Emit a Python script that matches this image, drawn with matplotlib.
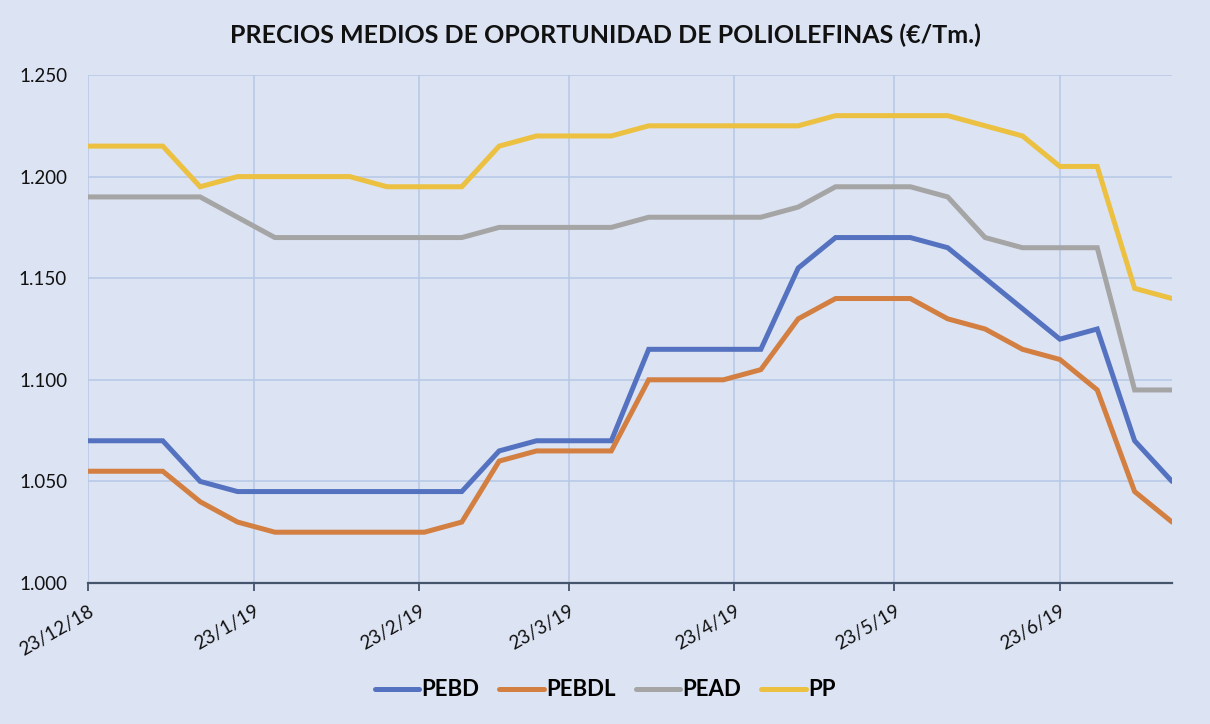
import matplotlib
matplotlib.use("Agg")
import matplotlib.pyplot as plt
import matplotlib.ticker as mticker
import pandas as pd

# ---- data (weekly observations, €/Tm) ----
start_date = "2018-12-23"
n_weeks = 30
pebd = [1070, 1070, 1070, 1050, 1045, 1045, 1045, 1045, 1045, 1045,
        1045, 1065, 1070, 1070, 1070, 1115, 1115, 1115, 1115, 1155,
        1170, 1170, 1170, 1165, 1150, 1135, 1120, 1125, 1070, 1050]
pebdl = [1055, 1055, 1055, 1040, 1030, 1025, 1025, 1025, 1025, 1025,
         1030, 1060, 1065, 1065, 1065, 1100, 1100, 1100, 1105, 1130,
         1140, 1140, 1140, 1130, 1125, 1115, 1110, 1095, 1045, 1030]
pead = [1190, 1190, 1190, 1190, 1180, 1170, 1170, 1170, 1170, 1170,
        1170, 1175, 1175, 1175, 1175, 1180, 1180, 1180, 1180, 1185,
        1195, 1195, 1195, 1190, 1170, 1165, 1165, 1165, 1095, 1095]
pp = [1215, 1215, 1215, 1195, 1200, 1200, 1200, 1200, 1195, 1195,
      1195, 1215, 1220, 1220, 1220, 1225, 1225, 1225, 1225, 1225,
      1230, 1230, 1230, 1230, 1225, 1220, 1205, 1205, 1145, 1140]
series_names = ["PEBD", "PEBDL", "PEAD", "PP"]
series_colors = ["#5472c0", "#d27f41", "#a5a5a5", "#ecc040"]
tick_dates = ["2018-12-23", "2019-01-23", "2019-02-23", "2019-03-23",
              "2019-04-23", "2019-05-23", "2019-06-23"]
title = "PRECIOS MEDIOS DE OPORTUNIDAD DE POLIOLEFINAS (€/Tm.)"

dates = pd.date_range(start_date, periods=n_weeks, freq="7D")

bg = "#dce3f2"
grid_c = "#b7c8e6"
axis_c = "#44546a"
plt.rcParams["font.family"] = ["Lato", "DejaVu Sans"]

fig = plt.figure(figsize=(12.1, 7.24), dpi=100, facecolor=bg)
ax = fig.add_axes([88 / 1210, 1 - 583 / 724, (1172 - 88) / 1210, (583 - 75) / 724])
ax.set_facecolor(bg)

for vals, name, col in zip([pebd, pebdl, pead, pp], series_names, series_colors):
    ax.plot(dates, vals, color=col, lw=3.6, label=name,
            solid_joinstyle="miter", solid_capstyle="round", zorder=3)

ax.set_xlim(dates[0], dates[-1])
ax.set_ylim(1000, 1250)
ax.yaxis.set_major_locator(mticker.MultipleLocator(50))
ax.yaxis.set_major_formatter(
    mticker.FuncFormatter(lambda v, p: f"{int(v) // 1000}.{int(v) % 1000:03d}"))

ticks = [pd.Timestamp(d) for d in tick_dates]
ax.set_xticks(ticks)
ax.set_xticklabels([f"{t.day}/{t.month}/{t.strftime('%y')}" for t in ticks],
                   rotation=30, ha="right", rotation_mode="anchor")

ax.grid(True, color=grid_c, lw=1.1, zorder=0)
for s in ["top", "right", "left"]:
    ax.spines[s].set_visible(False)
ax.spines["bottom"].set_color(axis_c)
ax.spines["bottom"].set_linewidth(1.6)
ax.spines["bottom"].set_zorder(4)
ax.tick_params(axis="y", length=0, pad=15, labelsize=13.5, labelcolor="#111111")
ax.tick_params(axis="x", length=6, width=1.3, color=axis_c, pad=8,
               labelsize=13.5, labelcolor="#111111")

fig.text(0.5, 1 - 35 / 724, title, ha="center", va="center",
         fontsize=18, fontweight="bold", color="#111111")

leg = fig.legend(loc="center", bbox_to_anchor=(0.5, 1 - 690 / 724), ncol=4,
                 frameon=False, prop={"weight": "bold", "size": 16},
                 handlelength=2.0, handletextpad=0.1, columnspacing=0.9)

fig.savefig("out.png", dpi=100, facecolor=bg)
